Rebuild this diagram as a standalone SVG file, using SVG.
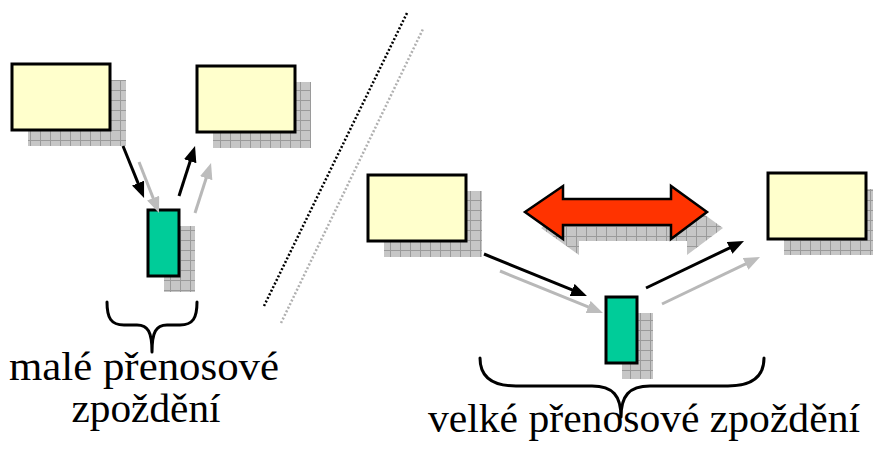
<svg xmlns="http://www.w3.org/2000/svg" width="873" height="449" viewBox="0 0 873 449">
<style>
.box{fill:#ffffcc;stroke:#000;stroke-width:3}
.grn{fill:#00cc99;stroke:#000;stroke-width:3}
.sh{fill:url(#grid)}
.blk{stroke:#000;stroke-width:3;fill:none;marker-end:url(#ab)}
.gry{stroke:#b8b8b8;stroke-width:3;fill:none;marker-end:url(#ag)}
.brace{fill:none;stroke:#000;stroke-width:3;stroke-linecap:round;stroke-linejoin:round}
.lbl{font-family:'Liberation Serif','Times New Roman',serif;font-size:39px;fill:#000;text-anchor:middle}
</style>
<defs>
<pattern id="grid" width="10" height="10" patternUnits="userSpaceOnUse">
<rect width="10" height="10" fill="#c6c6c6"/>
<path d="M0,0.5H10M0.5,0V10" stroke="#9a9a9a" stroke-width="1"/>
</pattern>
<marker id="ab" markerUnits="userSpaceOnUse" markerWidth="16" markerHeight="14" refX="10" refY="6.5" orient="auto">
<path d="M0,0 L16,6.5 L0,13 z" fill="#000"/>
</marker>
<marker id="ag" markerUnits="userSpaceOnUse" markerWidth="16" markerHeight="14" refX="10" refY="6.5" orient="auto">
<path d="M0,0 L16,6.5 L0,13 z" fill="#bdbdbd"/>
</marker>
</defs>
<rect width="873" height="449" fill="#fff"/>

<g id="separator">
<line x1="264" y1="306" x2="407" y2="13" stroke="#000" stroke-width="2.5" stroke-dasharray="2 2"/>
<line x1="281" y1="323" x2="423" y2="29" stroke="#b0b0b0" stroke-width="2.5" stroke-dasharray="2 2"/>
</g>

<g id="box-left-a">
<rect class="sh" x="28" y="80" width="98" height="66"/>
<rect class="box" x="12" y="64" width="98" height="66"/>
</g>
<g id="box-left-b">
<rect class="sh" x="213" y="82" width="98" height="66"/>
<rect class="box" x="197" y="66" width="98" height="66"/>
</g>
<g id="node-left">
<rect class="sh" x="164" y="226" width="31" height="66"/>
<rect class="grn" x="148" y="210" width="31" height="66"/>
</g>

<g id="box-right-a">
<rect class="sh" x="384" y="191" width="98" height="66"/>
<rect class="box" x="368" y="175" width="98" height="66"/>
</g>
<g id="box-right-b">
<rect class="sh" x="784" y="189" width="98" height="66"/>
<rect class="box" x="768" y="173" width="98" height="66"/>
</g>
<g id="node-right">
<rect class="sh" x="622" y="313" width="31" height="66"/>
<rect class="grn" x="606" y="297" width="31" height="66"/>
</g>

<g id="distance-arrow">
<polygon class="sh" transform="translate(16,16)" points="525,212 563,186 563,199 671,199 671,186 707,212 671,239 671,225 563,225 563,239"/>
<polygon points="525,212 563,186 563,199 671,199 671,186 707,212 671,239 671,225 563,225 563,239" fill="#ff3300" stroke="#000" stroke-width="2.5" stroke-linejoin="miter"/>
</g>

<g id="connectors">
<line class="gry" x1="139" y1="162" x2="156.8" y2="207.4"/>
<line class="blk" x1="123" y1="146" x2="141.8" y2="192.4"/>
<line class="gry" x1="195" y1="213" x2="209.2" y2="168.7"/>
<line class="blk" x1="179" y1="196" x2="193.2" y2="151.7"/>
<line class="gry" x1="500" y1="271" x2="597.4" y2="310.7"/>
<line class="blk" x1="484" y1="254" x2="581.4" y2="293.7"/>
<line class="gry" x1="662" y1="304" x2="754.6" y2="259.6"/>
<line class="blk" x1="646" y1="288" x2="738.6" y2="243.6"/>
</g>

<g id="label-small">
<path class="brace" d="M107,302 C107,318 111,325 124,325 L137,325 C148,325 152,332 152,352 C152,332 156,325 167,325 L180,325 C193,325 197,318 197,302"/>
<text class="lbl" x="144" y="380" textLength="270" lengthAdjust="spacingAndGlyphs">malé přenosové</text>
<text class="lbl" x="146" y="422" textLength="149" lengthAdjust="spacingAndGlyphs">zpoždění</text>
</g>

<g id="label-large">
<path class="brace" d="M480,358 C480,377 492,386 516,386 L592,386 C613,386 621,396 621,417 C621,396 629,386 650,386 L728,386 C752,386 764,377 764,358"/>
<text class="lbl" x="644" y="432" textLength="432" lengthAdjust="spacingAndGlyphs">velké přenosové zpoždění</text>
</g>
</svg>
